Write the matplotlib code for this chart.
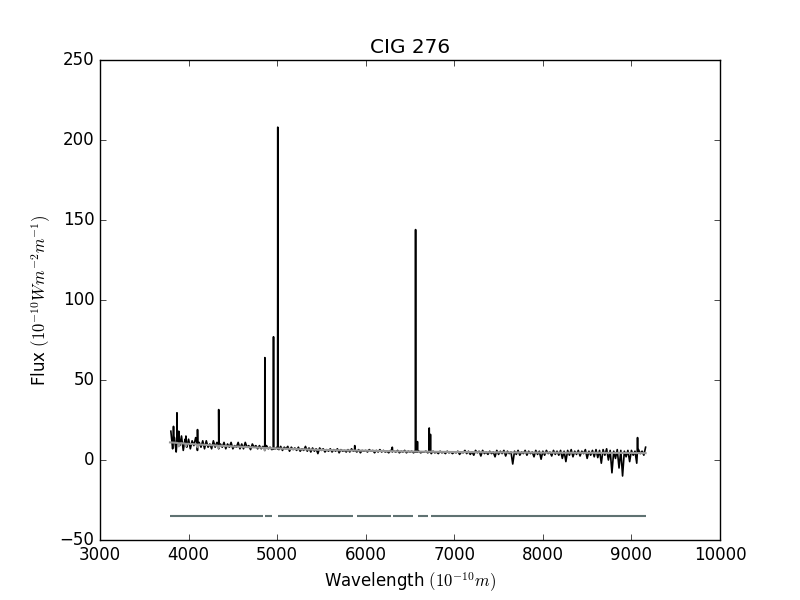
import numpy as np
import matplotlib
matplotlib.use("Agg")
import matplotlib.pyplot as plt

plt.style.use("classic")

spec_wl = np.arange(3800, 9161, 20)
spec_flux = [
    18, 7, 14, 5, 12, 9, 15, 6, 13, 8,                  # 3800-3980
    13, 7, 12, 9, 14, 6, 11, 8, 12, 7,                  # 4000-4180
    12, 8, 10, 7, 12, 8, 11, 7, 10, 8,                  # 4200-4380
    11, 7, 10, 8, 11, 7, 9, 8, 11, 7,                   # 4400-4580
    10, 7, 11, 8, 9, 6.5, 10, 8, 9, 7,                  # 4600-4780
    9, 7, 8.5, 6, 9, 7, 8, 6.5, 9, 7,                   # 4800-4980
    8, 6.5, 8.5, 6, 8, 7, 8.5, 5.5, 8, 6.5,             # 5000-5180
    7.5, 6, 8, 5.5, 7, 6, 8.5, 5.5, 7.5, 5,             # 5200-5380
    7.5, 5.5, 7, 4, 7.5, 6, 7, 5, 6.5, 5.5,             # 5400-5580
    7, 5, 6.5, 5.5, 7, 4.5, 6.5, 5.5, 6, 5,             # 5600-5780
    6.5, 5, 7, 5.5, 6, 5, 6.5, 4.5, 6, 5.5,             # 5800-5980
    6, 5, 6.5, 5.5, 6, 4.5, 6, 5, 6.5, 5,               # 6000-6180
    6, 5, 5.5, 4.5, 6, 5, 5.5, 5, 6, 4.5,               # 6200-6380
    5.5, 5, 6, 4.5, 5.5, 5, 5.5, 4.5, 5.5, 5,           # 6400-6580
    5.5, 4.5, 5, 5, 5.5, 4.5, 5, 4, 5.5, 4.5,           # 6600-6780
    5, 4, 5.5, 4.5, 5, 4, 5.5, 4.5, 5, 4,               # 6800-6980
    5, 4.5, 5.5, 3.5, 5, 4.5, 6, 4, 5.5, 3.5,           # 7000-7180
    5, 3, 6, 4.5, 5.5, 2.5, 6, 4, 5, 3.5,               # 7200-7380
    5.5, 4, 5, 2, 6, 3.5, 5.5, 4, 6, 2.5,               # 7400-7580
    5.5, 4, 5, -2.5, 5.5, 3.5, 6, 3, 5, 4,              # 7600-7780
    6, 3, 5.5, 4, 5, 2, 6, 3.5, 5.5, 0.5,               # 7800-7980
    5.5, 3, 6, 4, 5, 2.5, 6, 3.5, 5.5, 3,               # 8000-8180
    6, 1, 5.5, -1, 6, 3, 6.5, 2, 5.5, 3.5,              # 8200-8380
    6, 2.5, 5.5, 4, 6.5, 1, 5.5, 3, 6, 2,               # 8400-8580
    6.5, 1.5, 6, -2, 6.5, 3, 7, 0, 6, -8,               # 8600-8780
    5.5, 1, 6.5, -5, 6, -10, 5.5, 2, 6, -1,             # 8800-8980
    6, 3, 5.5, -2, 6.5, 4, 5.5, 3, 8,                   # 9000-9160
]

# emission lines: centre, peak height, local base level
line_wl = [3830, 3869, 3889, 3970, 4101, 4340, 4861, 4959, 5007,
           5876, 6300, 6563, 6584, 6717, 6731, 9069]
line_flux = [21, 29.5, 18, 15, 19, 31.5, 64, 77, 208,
             9, 8, 144, 11.5, 20, 16, 14]
line_base = [12, 10, 10, 10, 9.5, 9, 7.5, 7, 7,
             6, 5.5, 5, 5, 5, 5, 5]

# fitted continuum
cont_wl = [3790, 3850, 3880, 3889, 3900, 3960, 3970, 3980, 4090, 4101,
           4110, 4330, 4340, 4350, 4500, 4850, 4861, 4870, 5000, 5500,
           6000, 6500, 7000, 7500, 8000, 8500, 9000, 9160]
cont_flux = [11, 10.8, 10.6, 8.5, 10.5, 10.3, 8.5, 10.2, 9.8, 8,
             9.7, 9, 7.5, 8.9, 8.5, 7.6, 6, 7.5, 7.2, 6.3,
             5.8, 5.3, 5.0, 4.8, 4.6, 4.5, 4.4, 4.3]

# fitting windows
mask_start = [3790, 4863, 5010, 5902, 6308, 6590, 6737]
mask_end = [4840, 4942, 5857, 6285, 6534, 6703, 9164]
mask_level = -35

lw_arr = np.array(line_wl)
wl = np.concatenate([spec_wl, lw_arr - 2, lw_arr, lw_arr + 2])
fl = np.concatenate([spec_flux, line_base, line_flux, line_base])
order = np.argsort(wl, kind="stable")

fig, ax = plt.subplots(figsize=(8, 6), dpi=100)
ax.plot(wl[order], fl[order], color="black", lw=1.2)
ax.plot(cont_wl, cont_flux, color="#999999", lw=1.5)
for s, e in zip(mask_start, mask_end):
    ax.plot([s, e], [mask_level, mask_level], color="#5f7272", lw=1.5,
            solid_capstyle="butt")

ax.set_xlim(3000, 10000)
ax.set_ylim(-50, 250)
ax.set_title("CIG 276")
ax.set_xlabel(r"Wavelength $(10^{-10}m)$")
ax.set_ylabel(r"Flux $(10^{-10}Wm^{-2}m^{-1})$")

fig.savefig("out.png", dpi=100)
